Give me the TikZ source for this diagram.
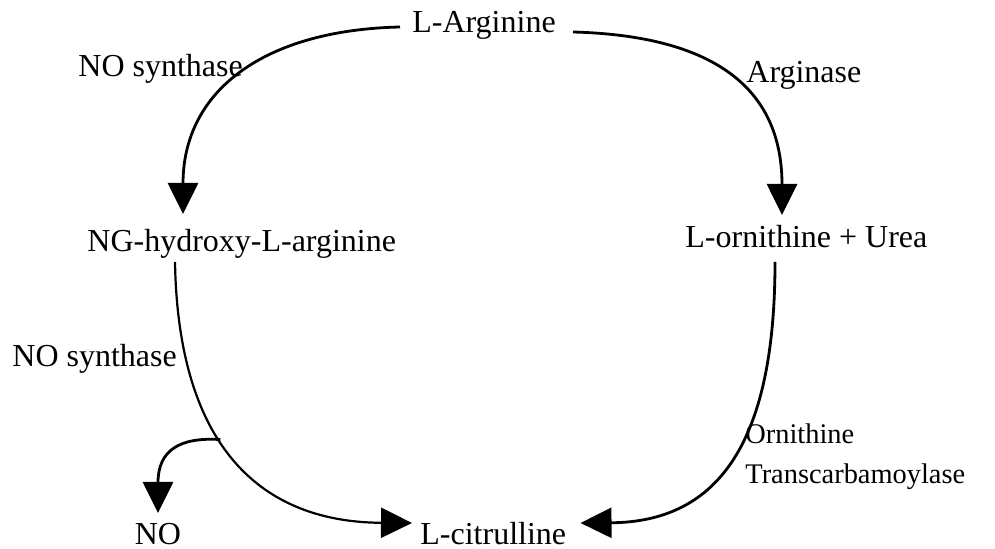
\documentclass[tikz,border=0pt]{standalone}
\usepackage{fontspec}
\setmainfont{Liberation Serif}
\usetikzlibrary{arrows.meta,calc}
\tikzset{
  lbl/.style={inner sep=0pt, font=\fontsize{16}{19}\selectfont},
  sml/.style={inner sep=0pt, font=\fontsize{14.2}{20}\selectfont, align=left},
  conn/.style={line width=1.4pt, -{Triangle[length=15.5pt,width=15pt]}},
}
\begin{document}
\begin{tikzpicture}[x=0.5pt,y=-0.5pt]
\useasboundingbox (0,0) rectangle (995,549);
% nodes
\node[lbl, anchor=base] (arg) at (484,33) {L-Arginine};
\node[lbl, anchor=base west] (ng) at (87,252) {NG-hydroxy-L-arginine};
\node[lbl, anchor=base west] (orn) at (685,248) {L-ornithine + Urea};
\node[lbl, anchor=base west] (cit) at (420,545) {L-citrulline};
\node[lbl, anchor=base] (no) at (158,545) {NO};
% enzyme labels
\node[lbl, anchor=base west] (nos1) at (78,77) {NO synthase};
\node[lbl, anchor=base west] (argase) at (746,83) {Arginase};
\node[lbl, anchor=base west] (nos2) at (12,367) {NO synthase};
\node[sml, anchor=base west] (otc1) at (745,444) {Ornithine};
\node[sml, anchor=base west] (otc2) at (745,484) {Transcarbamoylase};
% connectors
\draw[conn] ($(arg.base)+(-84,-6)$) .. controls (265,30) and (183,90) .. ($(ng.base west)+(96,-38)$);
\draw[conn] ($(arg.base)+(89,-1)$) .. controls (722,36) and (782,94) .. ($(orn.base west)+(97,-33)$);
\draw[conn, line width=1.1pt] ($(ng.base west)+(88,10)$) .. controls (178,440) and (255,522) .. coordinate[pos=0.43] (br) ($(cit.base west)+(-8,-22)$);
\draw[conn] (br) .. controls (180,437) and (158,450) .. ($(no.base)+(0,-32)$);
\draw[conn] ($(orn.base west)+(90,14)$) .. controls (775,440) and (720,522) .. ($(cit.base east)+(14,-22)$);
\end{tikzpicture}
\end{document}
